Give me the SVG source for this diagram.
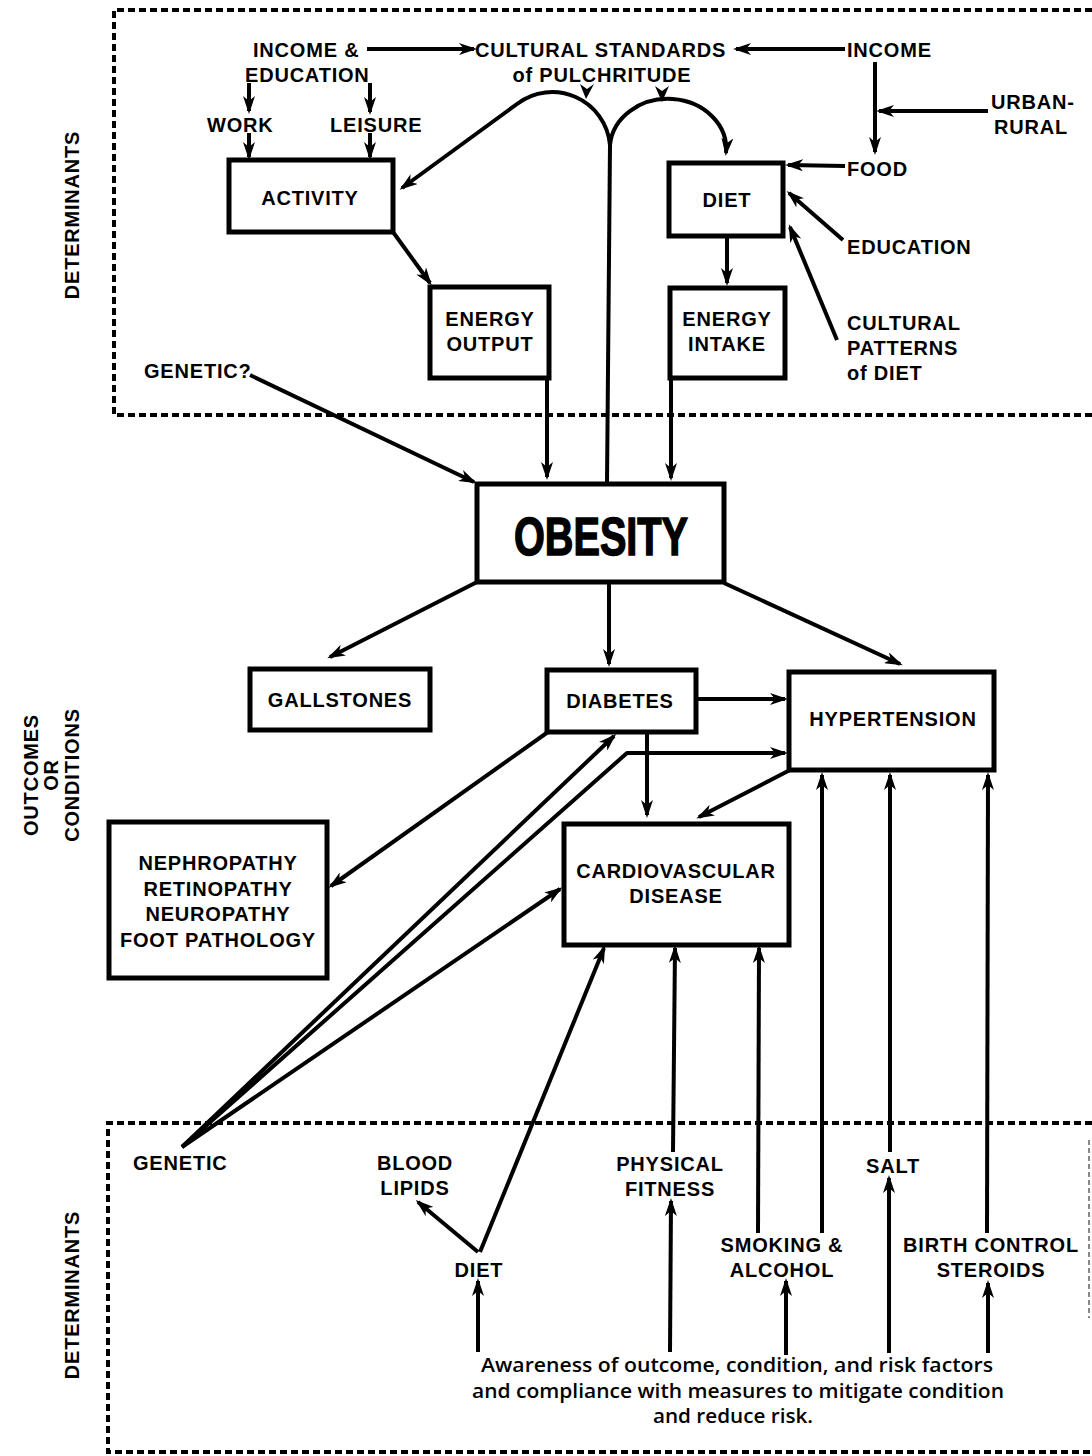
<svg xmlns="http://www.w3.org/2000/svg" width="1092" height="1456" viewBox="0 0 1092 1456">
<style>
.t{font-family:"Liberation Sans",Arial,sans-serif;font-weight:bold;font-size:20px;letter-spacing:0.8px;fill:#000}
.m{text-anchor:middle}
.box{fill:#fff;stroke:#000;stroke-width:5}
.c{fill:none;stroke:#000;stroke-width:4;stroke-linejoin:round}
.a{marker-end:url(#ah)}
.dash{fill:none;stroke:#000;stroke-width:4;stroke-dasharray:7 4}
.aw{font-family:"Open Sans","Liberation Sans",sans-serif;font-weight:600;font-size:19px;text-anchor:middle;fill:#000}
</style>
<defs>
<marker id="ah" viewBox="0 0 18 12" refX="15" refY="6" markerWidth="18" markerHeight="12" markerUnits="userSpaceOnUse" orient="auto">
<path d="M0,0 L18,6 L0,12 L5,6 Z" fill="#000"/>
</marker>
</defs>
<rect width="1092" height="1456" fill="#fff"/>

<g id="frames">
<path class="dash" d="M1092,10 H114 V415 H1092"/>
<path class="dash" d="M1092,1123 H108 V1452 H1092"/>
<path d="M1089,1140 V1318" fill="none" stroke="#888" stroke-width="2" stroke-dasharray="5 3"/>
</g>

<g id="side-labels">
<text class="t m" transform="translate(79,215) rotate(-90)">DETERMINANTS</text>
<text class="t m" transform="translate(38,775) rotate(-90)">OUTCOMES</text>
<text class="t m" transform="translate(58,775) rotate(-90)">OR</text>
<text class="t m" transform="translate(79,775) rotate(-90)">CONDITIONS</text>
<text class="t m" transform="translate(79,1295) rotate(-90)">DETERMINANTS</text>
</g>

<g id="connectors">
<path class="c a" d="M367,49 L474,49"/>
<path class="c a" d="M845,49 L736,49"/>
<path class="c a" d="M875,62 L875,152"/>
<path class="c a" d="M988,111 L879,111"/>
<path class="c a" d="M845,166 L788,165"/>
<path class="c a" d="M843,240 L789,193"/>
<path class="c a" d="M837,340 L790,227"/>
<path class="c a" d="M249,83 L249,111"/>
<path class="c a" d="M370,83 L370,112"/>
<path class="c a" d="M249,133 L249,157"/>
<path class="c a" d="M370,133 L370,157"/>
<path class="c a" d="M393,232 L430,283"/>
<path class="c a" d="M727,236 L727,283"/>
<path class="c a" d="M547,378 L547,477"/>
<path class="c a" d="M671,378 L671,478"/>
<path class="c a" d="M250,375 L474,482"/>
<path class="c" d="M607,483 L610,145"/>
<path class="c a" d="M610,145 A58,58 0 0 0 517,104 L402,188"/>
<path class="c a" d="M610,145 A58,50 0 0 1 726,153"/>
<path d="M580,84 L587,89 L594,84 L586,99 Z" fill="#000"/>
<path d="M655,86 L662,91 L669,86 L662,102 Z" fill="#000"/>
<path class="c a" d="M477,582 L330,657"/>
<path class="c a" d="M609,583 L609,664"/>
<path class="c a" d="M724,583 L900,664"/>
<path class="c a" d="M697,699 L785,699"/>
<path class="c a" d="M548,732 L331,886"/>
<path class="c a" d="M182,1147 L614,736"/>
<path class="c a" d="M182,1147 L627,753 L785,753"/>
<path class="c a" d="M182,1147 L560,889"/>
<path class="c a" d="M647,732 L647,815"/>
<path class="c a" d="M790,770 L699,817"/>
<path class="c a" d="M480,1252 L604,948"/>
<path class="c a" d="M478,1252 L418,1202"/>
<path class="c a" d="M673,1152 L675,948"/>
<path class="c a" d="M758,1233 L759,948"/>
<path class="c a" d="M822,1233 L822,775"/>
<path class="c a" d="M890,1152 L890,775"/>
<path class="c a" d="M987,1233 L988,775"/>
<path class="c a" d="M478,1352 L478,1281"/>
<path class="c a" d="M670,1352 L671,1201"/>
<path class="c a" d="M786,1355 L786,1281"/>
<path class="c a" d="M889,1353 L889,1178"/>
<path class="c a" d="M988,1353 L988,1283"/>
</g>

<g id="income-education"><text class="t" x="253" y="57">INCOME &amp;</text><text class="t" x="245" y="82">EDUCATION</text></g>
<g id="cultural-standards"><text class="t" x="475" y="57">CULTURAL STANDARDS</text><text class="t m" x="602" y="82">of PULCHRITUDE</text></g>
<g id="income"><text class="t" x="847" y="57">INCOME</text></g>
<g id="urban-rural"><text class="t" x="991" y="109">URBAN-</text><text class="t" x="1068" y="134" text-anchor="end">RURAL</text></g>
<g id="work"><text class="t" x="207" y="132">WORK</text></g>
<g id="leisure"><text class="t" x="330" y="132">LEISURE</text></g>
<g id="food"><text class="t" x="847" y="176">FOOD</text></g>
<g id="education"><text class="t" x="847" y="254">EDUCATION</text></g>
<g id="cultural-patterns"><text class="t" x="847" y="330">CULTURAL</text><text class="t" x="847" y="355">PATTERNS</text><text class="t" x="847" y="380">of DIET</text></g>
<g id="genetic-q"><text class="t" x="144" y="378">GENETIC?</text></g>

<g id="activity"><rect class="box" x="229" y="160" width="164" height="72"/><text class="t m" x="310" y="205">ACTIVITY</text></g>
<g id="diet"><rect class="box" x="669" y="163" width="114" height="73"/><text class="t m" x="727" y="207">DIET</text></g>
<g id="energy-output"><rect class="box" x="430" y="287" width="119" height="91"/><text class="t m" x="490" y="326">ENERGY</text><text class="t m" x="490" y="351">OUTPUT</text></g>
<g id="energy-intake"><rect class="box" x="670" y="288" width="115" height="90"/><text class="t m" x="727" y="326">ENERGY</text><text class="t m" x="727" y="351">INTAKE</text></g>
<g id="obesity"><rect class="box" x="477" y="484" width="247" height="98"/><text x="601" y="555" text-anchor="middle" font-family="'Liberation Sans',Arial,sans-serif" font-weight="bold" font-size="54" stroke="#000" stroke-width="1.5" textLength="174" lengthAdjust="spacingAndGlyphs">OBESITY</text></g>
<g id="gallstones"><rect class="box" x="250" y="669" width="180" height="61"/><text class="t m" x="340" y="707">GALLSTONES</text></g>
<g id="diabetes"><rect class="box" x="547" y="670" width="149" height="62"/><text class="t m" x="620" y="708">DIABETES</text></g>
<g id="hypertension"><rect class="box" x="789" y="672" width="205" height="98"/><text class="t m" x="893" y="726">HYPERTENSION</text></g>
<g id="complications"><rect class="box" x="109" y="822" width="218" height="156"/><text class="t m" x="218" y="870">NEPHROPATHY</text><text class="t m" x="218" y="896">RETINOPATHY</text><text class="t m" x="218" y="921">NEUROPATHY</text><text class="t m" x="218" y="947">FOOT PATHOLOGY</text></g>
<g id="cvd"><rect class="box" x="564" y="824" width="225" height="121"/><text class="t m" x="676" y="878">CARDIOVASCULAR</text><text class="t m" x="676" y="903">DISEASE</text></g>

<g id="genetic"><text class="t" x="133" y="1170">GENETIC</text></g>
<g id="blood-lipids"><text class="t m" x="415" y="1170">BLOOD</text><text class="t m" x="415" y="1195">LIPIDS</text></g>
<g id="diet-low"><text class="t m" x="479" y="1277">DIET</text></g>
<g id="physical-fitness"><text class="t m" x="670" y="1171">PHYSICAL</text><text class="t m" x="670" y="1196">FITNESS</text></g>
<g id="smoking-alcohol"><text class="t m" x="782" y="1252">SMOKING &amp;</text><text class="t m" x="782" y="1277">ALCOHOL</text></g>
<g id="salt"><text class="t m" x="893" y="1173">SALT</text></g>
<g id="birth-control"><text class="t m" x="991" y="1252">BIRTH CONTROL</text><text class="t m" x="991" y="1277">STEROIDS</text></g>
<g id="awareness">
<text class="aw" x="737" y="1372" textLength="512" lengthAdjust="spacingAndGlyphs">Awareness of outcome, condition, and risk factors</text>
<text class="aw" x="738" y="1398" textLength="532" lengthAdjust="spacingAndGlyphs">and compliance with measures to mitigate condition</text>
<text class="aw" x="733" y="1423" textLength="160" lengthAdjust="spacingAndGlyphs">and reduce risk.</text>
</g>
</svg>
